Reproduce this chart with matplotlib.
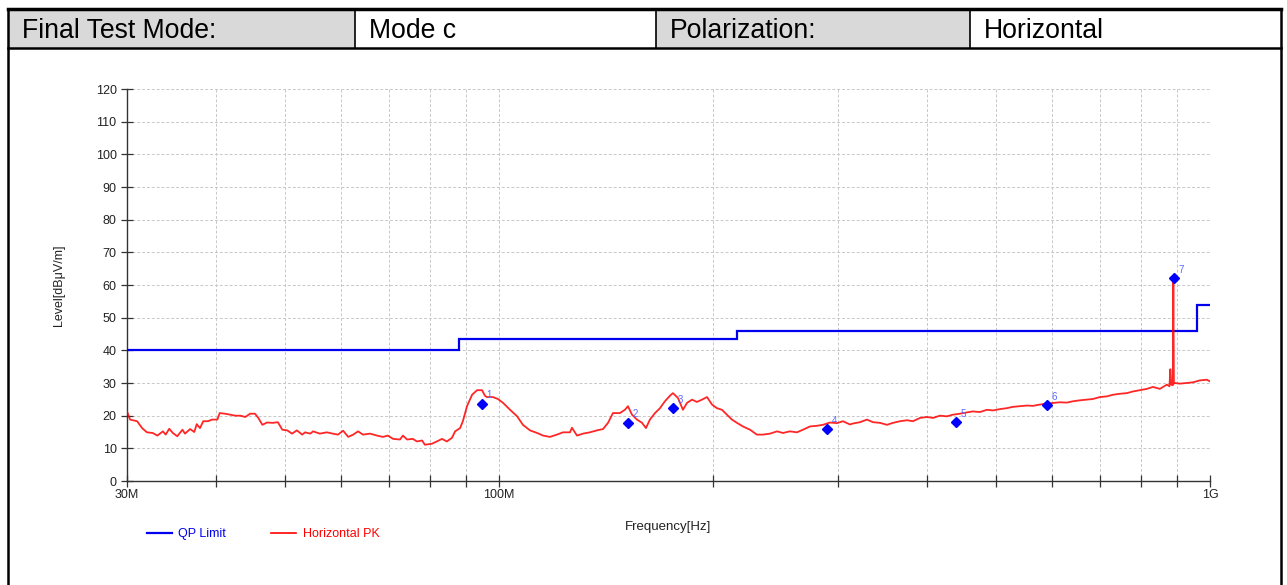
import matplotlib
matplotlib.use("Agg")
import matplotlib.pyplot as plt
from matplotlib.patches import Rectangle
from matplotlib.lines import Line2D
from matplotlib.ticker import FixedLocator, NullFormatter, FixedFormatter

plt.rcParams['font.family'] = ['Liberation Sans', 'DejaVu Sans']

# ---------------- data ----------------
header_cells = ["Final Test Mode:", "Mode c", "Polarization:", "Horizontal"]

limit_edges_mhz = [30, 88, 216, 960, 1000]
limit_levels = [40, 43.5, 46, 54]

trace_freq_mhz = [
    30.0, 30.3, 31.0, 31.5, 32.0, 32.6, 33.1, 33.7, 34.0, 34.4, 34.8, 35.3, 35.9, 36.2,
    36.8, 37.3, 37.6, 38.0, 38.4, 39.0, 39.5, 40.2, 40.5, 41.2, 41.9, 42.6, 43.3, 44.0,
    44.7, 45.4, 45.9, 46.5, 47.2, 48.1, 48.9, 49.6, 50.4, 51.2, 52.0, 52.9, 53.4, 54.3,
    54.8, 56.0, 57.3, 58.4, 59.4, 60.4, 61.4, 62.4, 63.4, 64.4, 65.9, 67.4, 68.7, 69.8,
    71.0, 72.6, 73.3, 74.3, 75.7, 76.7, 78.0, 78.7, 80.5, 81.8, 83.2, 84.5, 85.9, 86.8,
    88.2, 89.0, 90.2, 91.7, 93.2, 94.7, 95.6, 96.2, 98.1, 99.7, 101.4, 103.7, 106.1,
    108.1, 110.6, 113.2, 115.4, 118.0, 120.7, 123.1, 125.9, 126.7, 128.8, 131.3, 134.3,
    137.4, 140.1, 142.4, 144.7, 148.0, 150.4, 151.9, 153.9, 156.4, 159.0, 161.0, 163.1,
    165.8, 168.5, 171.2, 174.0, 175.7, 178.6, 181.5, 183.9, 186.9, 189.9, 193.0, 196.2,
    199.4, 202.6, 205.9, 209.3, 212.7, 216.2, 220.4, 225.5, 230.6, 235.2, 240.6, 246.1,
    250.9, 256.6, 262.5, 267.7, 273.8, 280.1, 285.6, 292.1, 298.8, 304.7, 311.7, 314.7,
    321.9, 329.3, 335.8, 343.5, 351.4, 358.2, 366.5, 374.9, 382.2, 391.0, 399.9, 407.8,
    417.1, 426.7, 435.0, 445.0, 455.2, 464.1, 474.7, 485.6, 495.1, 506.5, 518.1, 528.3,
    540.4, 552.7, 563.6, 576.5, 589.7, 601.3, 615.1, 629.2, 641.5, 656.2, 671.2, 684.4,
    700.1, 716.1, 730.2, 746.9, 764.0, 779.0, 796.8, 815.1, 831.1, 850.1, 869.6, 877.0,
    879.5, 882.0, 886.5, 888.1, 889.6, 892.5, 907.0, 927.8, 946.0, 967.7, 989.9, 1000.0,
]
trace_level = [
    21.3, 18.8, 18.3, 16.2, 14.9, 14.7, 13.9, 15.2, 14.2, 16.0, 14.7, 13.7, 15.7, 14.5,
    15.9, 15.0, 17.4, 16.2, 18.3, 18.3, 18.8, 18.8, 20.8, 20.6, 20.3, 20.0, 20.0, 19.6,
    20.6, 20.6, 19.3, 17.2, 17.9, 17.8, 18.0, 15.7, 15.5, 14.5, 15.5, 14.2, 14.9, 14.5,
    15.2, 14.5, 14.9, 14.5, 14.2, 15.4, 13.5, 14.2, 15.2, 14.2, 14.5, 13.9, 13.5, 13.9,
    12.9, 12.7, 13.9, 12.7, 12.9, 12.1, 12.4, 11.1, 11.4, 12.1, 12.9, 12.1, 13.2, 15.2,
    16.2, 18.3, 22.9, 26.4, 27.8, 27.8, 26.1, 25.7, 25.7, 25.1, 23.9, 21.8, 19.8,
    17.2, 15.5, 14.7, 13.9, 13.5, 14.2, 14.9, 14.9, 16.3, 13.9, 14.5, 14.9,
    15.5, 15.9, 17.8, 20.8, 20.8, 21.8, 22.9, 20.3, 18.8, 17.8, 16.2, 18.8,
    20.8, 22.3, 24.4, 26.1, 26.9, 25.4, 21.8, 23.9, 24.9, 24.2, 24.9, 25.7,
    23.4, 22.3, 21.8, 20.3, 18.8, 17.8, 16.7, 15.7, 14.2, 14.2, 14.5, 15.2,
    14.7, 15.2, 14.9, 15.7, 16.7, 16.9, 17.2, 17.9, 17.7, 18.3, 17.3, 17.6,
    18.0, 18.8, 18.0, 17.8, 17.2, 17.8, 18.3, 18.6, 18.3, 19.3, 19.6, 19.3,
    20.0, 19.8, 20.3, 20.6, 21.0, 21.3, 21.1, 21.8, 21.6, 22.0, 22.3, 22.7,
    22.9, 23.1, 23.0, 23.4, 23.7, 23.9, 24.1, 24.0, 24.4, 24.7, 24.9, 25.1,
    25.7, 25.9, 26.4, 26.7, 26.9, 27.4, 27.8, 28.2, 28.8, 28.2, 29.5, 29.0,
    34.2, 29.5, 29.3, 61.5, 29.8, 30.0, 29.8, 30.0, 30.2, 30.8, 31.0, 30.5,
]

marker_freq_mhz = [94.7, 152.0, 175.8, 289.5, 439.6, 590.0, 890.7]
marker_level = [23.6, 17.8, 22.3, 15.9, 18.0, 23.2, 62.1]
marker_labels = ["1", "2", "3", "4", "5", "6", "7"]

x_major = [30, 100, 1000]
x_major_labels = ["30M", "100M", "1G"]
x_minor = [40, 50, 60, 70, 80, 90, 200, 300, 400, 500, 600, 700, 800, 900]
y_ticks = list(range(0, 121, 10))

# ---------------- figure ----------------
W, H = 1287, 585
fig = plt.figure(figsize=(W / 100, H / 100), dpi=100)
fig.patch.set_facecolor("white")


def fx(px):
    return px / W


def fy(py):
    return 1 - py / H


# header cells
cell_edges = [8, 355, 656, 970, 1281]
cell_fill = ["#D9D9D9", "white", "#D9D9D9", "white"]
top_y, bot_y = 9, 48
for i, txt in enumerate(header_cells):
    x0, x1 = cell_edges[i], cell_edges[i + 1]
    fig.patches.append(Rectangle((fx(x0), fy(bot_y)), fx(x1 - x0), (bot_y - top_y) / H,
                                 transform=fig.transFigure, facecolor=cell_fill[i],
                                 edgecolor="none", zorder=0))
    fig.text(fx(x0 + 14), fy(31.5), txt, fontsize=19.2, va="center", ha="left", color="black")

lw_b = 1.8
fig.lines.append(Line2D([fx(8), fx(1281)], [fy(top_y), fy(top_y)], transform=fig.transFigure,
                        color="black", lw=2.5))
fig.lines.append(Line2D([fx(8), fx(1281)], [fy(bot_y), fy(bot_y)], transform=fig.transFigure,
                        color="black", lw=lw_b))
for xe in cell_edges[1:-1]:
    fig.lines.append(Line2D([fx(xe), fx(xe)], [fy(top_y), fy(bot_y)], transform=fig.transFigure,
                            color="black", lw=1.2))
for xe in (cell_edges[0], cell_edges[-1]):
    fig.lines.append(Line2D([fx(xe), fx(xe)], [fy(top_y), 0], transform=fig.transFigure,
                            color="black", lw=lw_b))

# axes
ax = fig.add_axes([fx(127), fy(481), fx(1210 - 127), (481 - 89) / H])
ax.set_xscale("log")
ax.set_xlim(30, 1000)
ax.set_ylim(0, 120)

ax.stairs(limit_levels, limit_edges_mhz, color="#0000EE", lw=1.6, baseline=None,
          label="QP Limit", zorder=3)
ax.plot(trace_freq_mhz, trace_level, color="#FF0000", lw=1.3, alpha=0.85,
        label="Horizontal PK", zorder=4)
ax.plot(marker_freq_mhz, marker_level, linestyle="none", marker="D", markersize=5.5,
        color="#0000FF", zorder=5)
for f, l, t in zip(marker_freq_mhz, marker_level, marker_labels):
    ax.annotate(t, (f, l), xytext=(3, 4), textcoords="offset points", fontsize=7,
                color="#5A6BFF", zorder=6)

ax.xaxis.set_major_locator(FixedLocator(x_major))
ax.xaxis.set_major_formatter(FixedFormatter(x_major_labels))
ax.xaxis.set_minor_locator(FixedLocator(x_minor))
ax.xaxis.set_minor_formatter(NullFormatter())
ax.set_yticks(y_ticks)

for s in ("top", "right"):
    ax.spines[s].set_visible(False)
for s in ("left", "bottom"):
    ax.spines[s].set_color("#333333")
    ax.spines[s].set_linewidth(1.0)

ax.tick_params(axis="both", which="both", direction="inout", length=8, width=0.9,
               color="#333333", labelsize=9, labelcolor="#222222")
ax.tick_params(axis="x", which="both", pad=2)
ax.grid(True, which="both", axis="both", color="#C8C8C8", linestyle=(0, (3, 2)), lw=0.7)
ax.set_axisbelow(True)

ax.set_xlabel("Frequency[Hz]", fontsize=9.5, color="#222222", labelpad=14)
ax.set_ylabel("Level[dB\u03bcV/m]", fontsize=9, color="#222222", labelpad=22)

h_leg = [Line2D([], [], color="#0000EE", lw=1.6), Line2D([], [], color="#FF0000", lw=1.2)]
fig.legend(h_leg, ["QP Limit", "Horizontal PK"], loc="center left",
           bbox_to_anchor=(fx(136), fy(534)), ncol=2, frameon=False, fontsize=9,
           handlelength=2.0, handletextpad=0.5, columnspacing=3.6,
           labelcolor=["#0000EE", "#FF0000"])

fig.savefig("out.png", dpi=100)
